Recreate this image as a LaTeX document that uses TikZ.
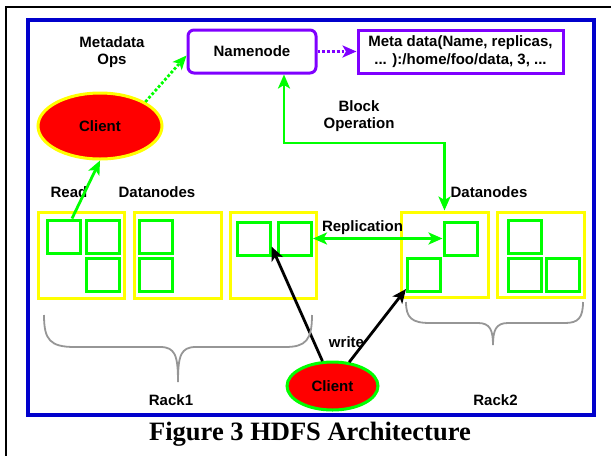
\documentclass[tikz,border=0pt]{standalone}
\usepackage{fontspec}
\setmainfont{Liberation Sans}
\newfontfamily\capfont{Liberation Serif}
\usetikzlibrary{arrows.meta,shapes.geometric,calc}
\definecolor{gr}{RGB}{0,255,0}
\definecolor{yl}{RGB}{255,255,0}
\definecolor{pu}{RGB}{127,0,255}
\definecolor{bl}{RGB}{0,0,204}
\definecolor{rd}{RGB}{255,0,0}
\definecolor{br}{RGB}{150,150,150}
\tikzset{
  lbl/.style={font=\fontsize{15}{17}\selectfont\bfseries, align=center, inner sep=0pt},
  sq/.style={draw=gr, line width=3pt, minimum width=33pt, minimum height=33pt, inner sep=0pt},
  rack/.style={draw=yl, line width=3pt, minimum width=86pt, minimum height=86pt, inner sep=0pt},
  tipA/.style={-{Stealth[length=14pt,width=12pt,inset=3.5pt]}},
  tipB/.style={{Stealth[length=14pt,width=12pt,inset=3.5pt]}-{Stealth[length=14pt,width=12pt,inset=3.5pt]}},
  gline/.style={draw=gr, line width=2.8pt},
  brace/.style={draw=br, line width=1.8pt},
}
\begin{document}
\begin{tikzpicture}[x=1pt,y=-1pt]
\useasboundingbox (0,0) rectangle (611,456);
% outer frame lines
\draw[line width=2.5pt] (611,7) -- (6,7) -- (6,456);
% blue frame
\draw[bl, line width=3.8pt] (28,20) rectangle (594,415);
% namenode and metadata
\node[draw=pu, line width=3pt, rounded corners=6pt, minimum width=128pt, minimum height=43pt, lbl] (namenode) at (252,51.5) {Namenode};
\node[draw=pu, line width=3pt, minimum width=205pt, minimum height=43pt, lbl, font=\fontsize{15}{18}\selectfont\bfseries] (meta) at (460.5,51.5) {Meta data(Name, replicas,\\... ):/home/foo/data, 3, ...};
\draw[pu, line width=2.8pt, dotted, -{Stealth[length=14pt,width=12pt,inset=3.5pt]}] (namenode.east) -- (meta.west);
% client top
\node[ellipse, draw=yl, fill=rd, line width=3pt, minimum width=124pt, minimum height=66pt, lbl] (client1) at (100,126) {Client};
% labels
\node[lbl, font=\fontsize{15}{17}\selectfont\bfseries] (mdops) at (112,52) {Metadata\\Ops};
\node[lbl, font=\fontsize{15}{17}\selectfont\bfseries] (blockop) at (359,116) {Block\\Operation};
\node[lbl] (readl) at (69,192) {Read};
\node[lbl] (dn1) at (157,192) {Datanodes};
\node[lbl] (dn2) at (489,192) {Datanodes};
% racks
\node[rack] (box1) at (81,255) {};
\node[rack, minimum width=87pt] (box2) at (177.5,255) {};
\node[rack] (box3) at (273,255) {};
\node[rack, minimum width=87pt, minimum height=85pt] (box4) at (444.5,254.5) {};
\node[rack, minimum width=87pt, minimum height=85pt] (box5) at (540.5,254.5) {};
% squares
\node[sq] (s11) at (64,236.5) {};
\node[sq] (s12) at (102.5,236.5) {};
\node[sq] (s13) at (102.5,275) {};
\node[sq] (s21) at (155.5,236.5) {};
\node[sq] (s22) at (155.5,275) {};
\node[sq] (s31) at (253.5,238.5) {};
\node[sq] (s32) at (295,238.5) {};
\node[sq] (s41) at (460.5,238.5) {};
\node[sq] (s42) at (424,275) {};
\node[sq] (s51) at (524.5,236.5) {};
\node[sq] (s52) at (524.5,275) {};
\node[sq] (s53) at (562.5,275) {};
% client bottom
\node[ellipse, draw=gr, fill=rd, line width=3pt, minimum width=91pt, minimum height=48pt, lbl] (client2) at (332.5,386) {Client};
% green connectors
\draw[gline, dotted, tipA] (client1.28) -- ([yshift=-4pt]namenode.west);
\draw[gline, tipA] ([xshift=8pt]s11.north) -- (client1.south);
\coordinate (bend) at (444.5,143);
\draw[gline, tipB] ([xshift=32pt]namenode.south) |- (bend) -- (box4.north);
\draw[gline, tipB] (s32.east) -- (s41.west);
\node[lbl] (repl) at (362.5,228) {Replication};
% black write arrows
\draw[line width=2.8pt, tipA] (client2.112) -- ([yshift=-8pt]s31.east);
\draw[line width=2.8pt, tipA] (client2.55) -- ([yshift=4pt]s42.south west);
\node[lbl] (writel) at (346.5,342) {write};
% braces
\draw[brace] (44,315) .. controls (44,340) and (50,347) .. (75,347) -- (160,347) .. controls (175,347) and (178,355) .. (178,382)
  .. controls (178,355) and (181,347) .. (196,347) -- (285,347) .. controls (306,347) and (312,340) .. (312,315);
\draw[brace] (406,302) .. controls (406,318) and (412,323) .. (430,323) -- (478,323) .. controls (490,323) and (493,330) .. (493,345)
  .. controls (493,330) and (496,323) .. (508,323) -- (565,323) .. controls (578,323) and (583,318) .. (583,302);
\node[lbl] (rack1) at (171,400) {Rack1};
\node[lbl] (rack2) at (495.5,400) {Rack2};
% caption
\node[font=\capfont\fontsize{26.5}{30}\selectfont\bfseries, inner sep=0pt] (cap) at (310,434) {Figure 3 HDFS Architecture};
\end{tikzpicture}
\end{document}
